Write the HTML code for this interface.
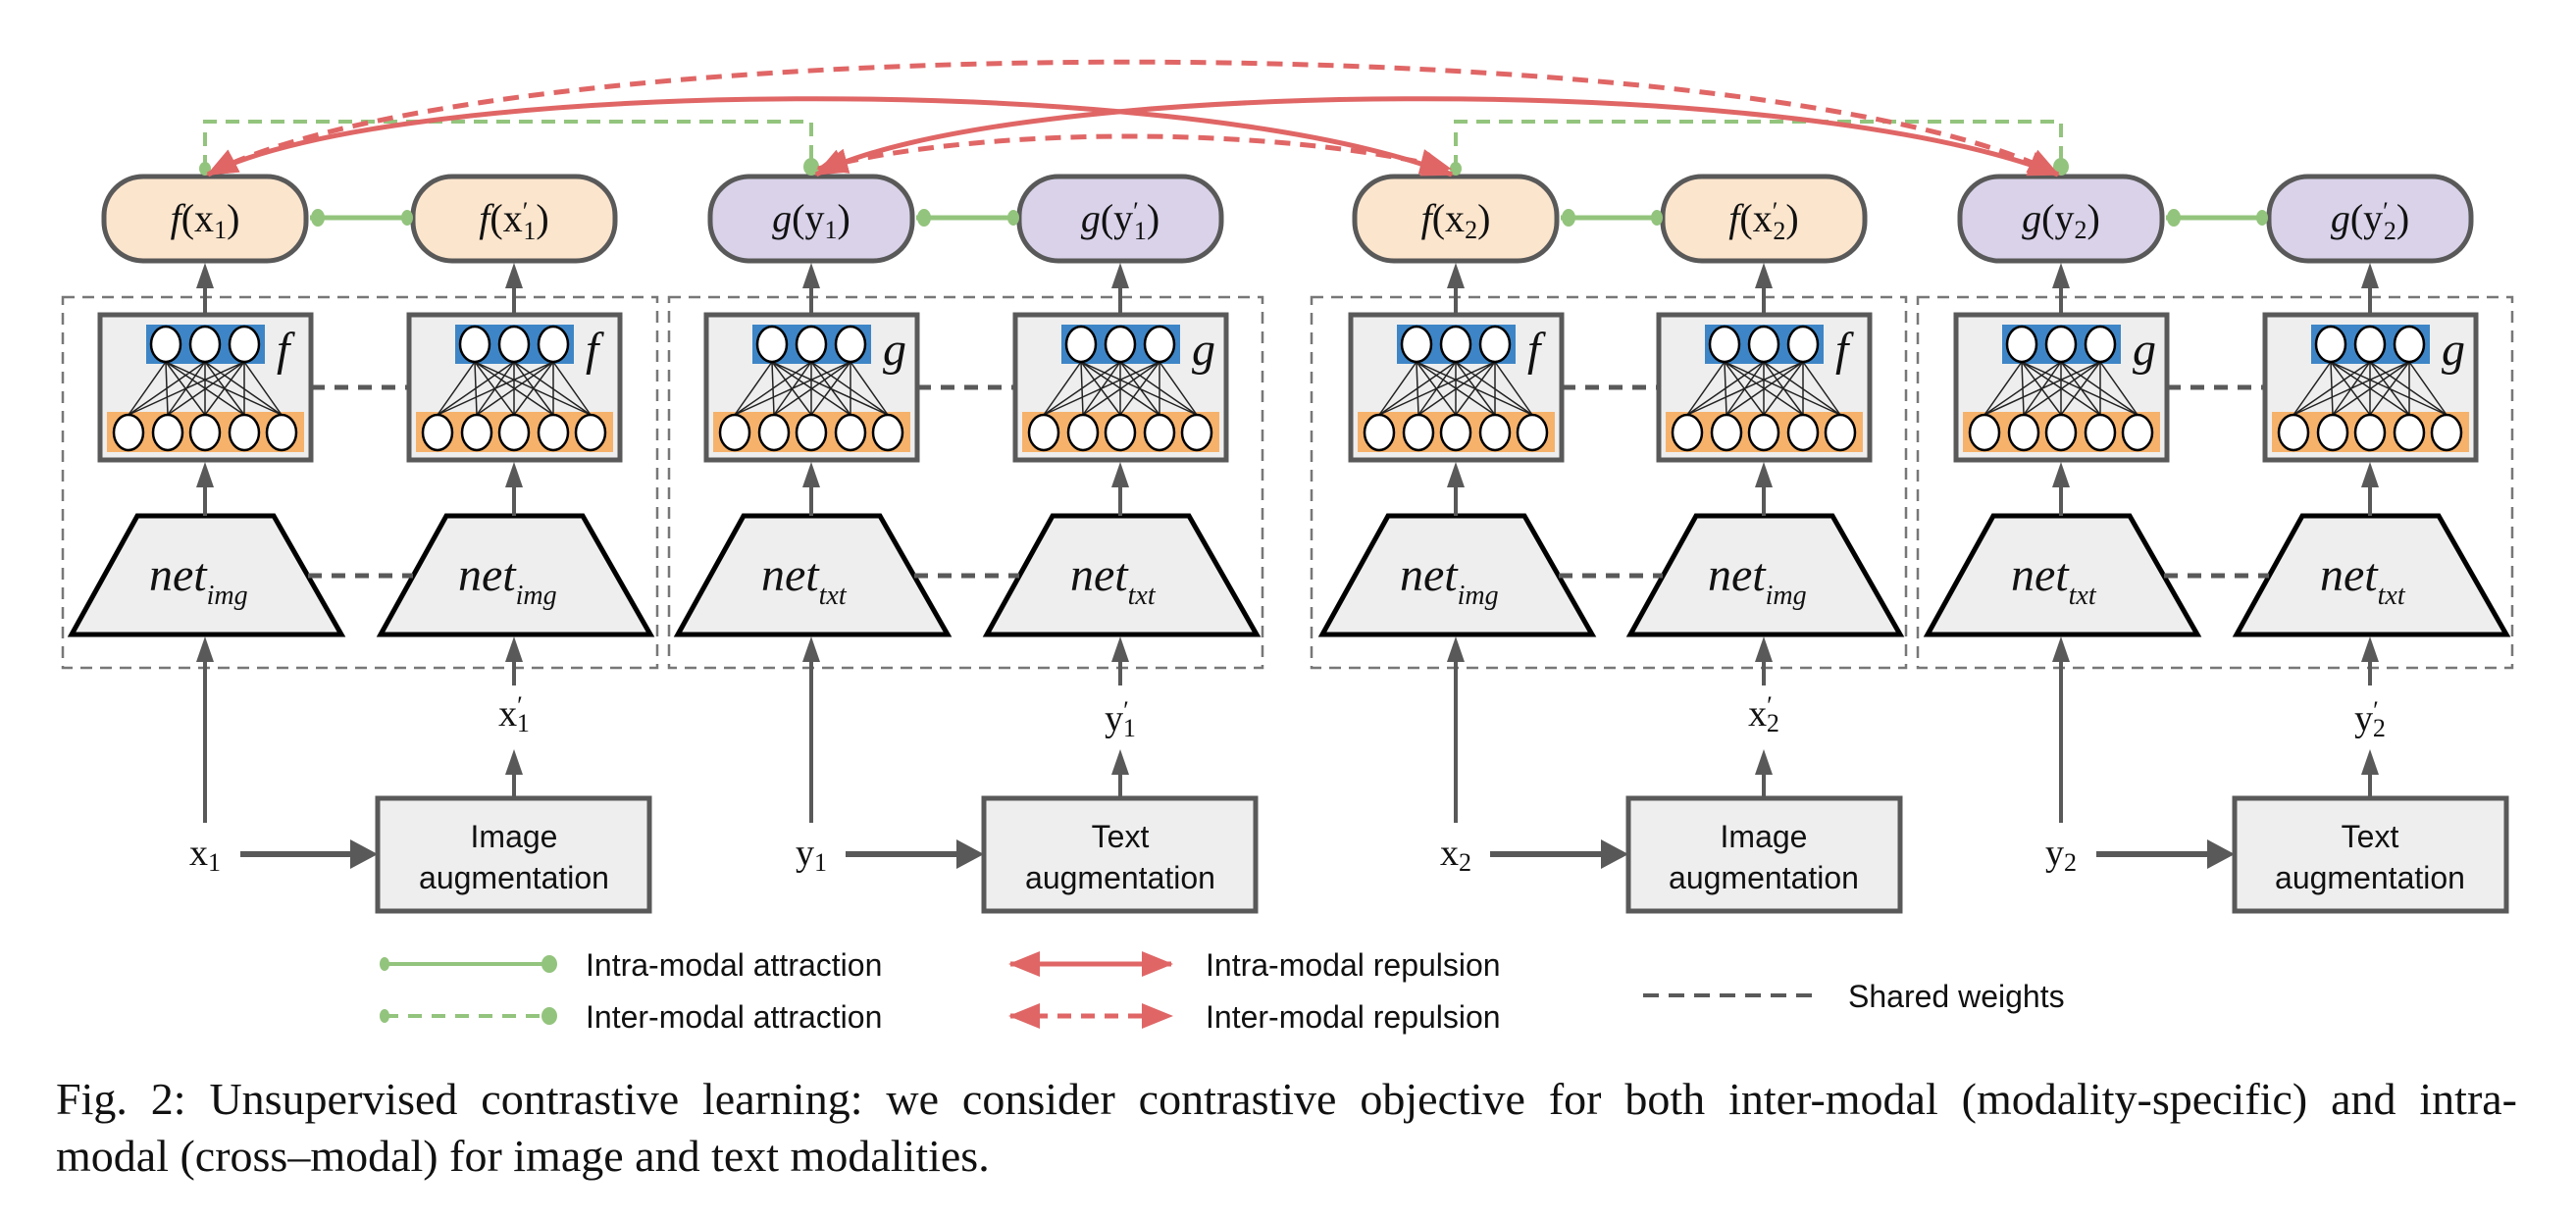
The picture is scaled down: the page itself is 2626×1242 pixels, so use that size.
<!DOCTYPE html>
<html><head><meta charset="utf-8"><style>
html,body{margin:0;padding:0;background:#fff;}
body{width:2626px;height:1242px;overflow:hidden;position:relative;}
svg{position:absolute;left:0;top:0;}
.cap{position:absolute;left:57px;width:2509px;font-family:"Liberation Serif",serif;font-size:46px;line-height:46px;color:#111;white-space:nowrap;}
</style></head><body>
<svg width="2626" height="1242" viewBox="0 0 2626 1242" xmlns="http://www.w3.org/2000/svg">
<defs>
<g id="nn">
<rect x="-107" y="321" width="215" height="148" fill="#eeeeee" stroke="#595959" stroke-width="5"/>
<rect x="-60" y="331" width="121" height="40" fill="#3d85c6"/>
<rect x="-100" y="420" width="201" height="41" fill="#f6b26b"/>
<g stroke="#222" stroke-width="1.5">
<path d="M-40,369L-78,423M-40,369L-38,423M-40,369L0,423M-40,369L40,423M-40,369L78,423M0,369L-78,423M0,369L-38,423M0,369L0,423M0,369L40,423M0,369L78,423M40,369L-78,423M40,369L-38,423M40,369L0,423M40,369L40,423M40,369L78,423"/>
</g>
<g fill="#fff" stroke="#000" stroke-width="2.5">
<ellipse cx="-40" cy="351" rx="15" ry="18"/><ellipse cx="0" cy="351" rx="15" ry="18"/><ellipse cx="40" cy="351" rx="15" ry="18"/>
<ellipse cx="-78" cy="441" rx="15" ry="18"/><ellipse cx="-38" cy="441" rx="15" ry="18"/><ellipse cx="0" cy="441" rx="15" ry="18"/><ellipse cx="40" cy="441" rx="15" ry="18"/><ellipse cx="78" cy="441" rx="15" ry="18"/>
</g>
<polygon points="-69,526 70,526 139,647 -136,647" fill="#eeeeee" stroke="#000" stroke-width="5" stroke-linejoin="miter"/>
<g stroke="#595959" stroke-width="4"><line x1="0" y1="321" x2="0" y2="290"/><line x1="0" y1="526" x2="0" y2="495"/><line x1="0" y1="699" x2="0" y2="670"/></g>
<g fill="#595959"><polygon points="0,268 -9,294 9,294"/><polygon points="0,471 -9,497 9,497"/><polygon points="0,649 -9,675 9,675"/></g>
</g>
<g id="up"><polygon points="0,0 -9,26 9,26" fill="#595959"/></g>
<marker id="ra" markerUnits="userSpaceOnUse" markerWidth="34" markerHeight="30" refX="30" refY="15" orient="auto-start-reverse"><path d="M0,2 L32,15 L0,28 z" fill="#e06666"/></marker>
</defs>

<g fill="none" stroke="#777" stroke-width="2.5" stroke-dasharray="12,8">
<rect x="64" y="303" width="606" height="378"/><rect x="682" y="303" width="605" height="378"/>
<rect x="1337" y="303" width="606" height="378"/><rect x="1955" y="303" width="606" height="378"/>
</g>

<use href="#nn" x="209"/><use href="#nn" x="524"/><use href="#nn" x="827"/><use href="#nn" x="1142"/>
<use href="#nn" x="1484"/><use href="#nn" x="1798"/><use href="#nn" x="2101"/><use href="#nn" x="2416"/>

<g stroke="#595959" stroke-width="5" stroke-dasharray="14,10">
<line x1="317" y1="395" x2="417" y2="395"/><line x1="935" y1="395" x2="1035" y2="395"/><line x1="1592" y1="395" x2="1691" y2="395"/><line x1="2209" y1="395" x2="2309" y2="395"/>
<line x1="314" y1="587" x2="421" y2="587"/><line x1="932" y1="587" x2="1039" y2="587"/><line x1="1589" y1="587" x2="1695" y2="587"/><line x1="2206" y1="587" x2="2313" y2="587"/>
</g>

<g font-family="Liberation Serif,serif" font-style="italic" font-size="48" fill="#111">
<text x="282" y="372">f</text><text x="597" y="372">f</text><text x="900" y="372">g</text><text x="1215" y="372">g</text>
<text x="1557" y="372">f</text><text x="1871" y="372">f</text><text x="2174" y="372">g</text><text x="2489" y="372">g</text>
</g>
<g font-family="Liberation Serif,serif" font-style="italic" fill="#111">
<text x="152" y="602" font-size="48">net<tspan font-size="28" dy="14">img</tspan></text>
<text x="467" y="602" font-size="48">net<tspan font-size="28" dy="14">img</tspan></text>
<text x="776" y="602" font-size="48">net<tspan font-size="28" dy="14">txt</tspan></text>
<text x="1091" y="602" font-size="48">net<tspan font-size="28" dy="14">txt</tspan></text>
<text x="1427" y="602" font-size="48">net<tspan font-size="28" dy="14">img</tspan></text>
<text x="1741" y="602" font-size="48">net<tspan font-size="28" dy="14">img</tspan></text>
<text x="2050" y="602" font-size="48">net<tspan font-size="28" dy="14">txt</tspan></text>
<text x="2365" y="602" font-size="48">net<tspan font-size="28" dy="14">txt</tspan></text>
</g>

<g stroke="#595959" stroke-width="5">
<rect x="106" y="180" width="206" height="86" rx="40" fill="#fce5cd"/>
<rect x="421" y="180" width="206" height="86" rx="40" fill="#fce5cd"/>
<rect x="724" y="180" width="206" height="86" rx="40" fill="#d9d2e9"/>
<rect x="1039" y="180" width="206" height="86" rx="40" fill="#d9d2e9"/>
<rect x="1381" y="180" width="206" height="86" rx="40" fill="#fce5cd"/>
<rect x="1695" y="180" width="206" height="86" rx="40" fill="#fce5cd"/>
<rect x="1998" y="180" width="206" height="86" rx="40" fill="#d9d2e9"/>
<rect x="2313" y="180" width="206" height="86" rx="40" fill="#d9d2e9"/>
</g>
<g font-family="Liberation Serif,serif" font-size="40" fill="#111" text-anchor="middle">
<text x="209" y="236"><tspan font-style="italic">f</tspan>(x<tspan font-size="26" dy="7">1</tspan><tspan dy="-7">)</tspan></text>
<text x="524" y="236"><tspan font-style="italic">f</tspan>(x<tspan font-size="26" dy="-12">′</tspan><tspan font-size="26" dy="20" dx="-5">1</tspan><tspan dy="-8">)</tspan></text>
<text x="827" y="236"><tspan font-style="italic">g</tspan>(y<tspan font-size="26" dy="7">1</tspan><tspan dy="-7">)</tspan></text>
<text x="1142" y="236"><tspan font-style="italic">g</tspan>(y<tspan font-size="26" dy="-12">′</tspan><tspan font-size="26" dy="20" dx="-5">1</tspan><tspan dy="-8">)</tspan></text>
<text x="1484" y="236"><tspan font-style="italic">f</tspan>(x<tspan font-size="26" dy="7">2</tspan><tspan dy="-7">)</tspan></text>
<text x="1798" y="236"><tspan font-style="italic">f</tspan>(x<tspan font-size="26" dy="-12">′</tspan><tspan font-size="26" dy="20" dx="-5">2</tspan><tspan dy="-8">)</tspan></text>
<text x="2101" y="236"><tspan font-style="italic">g</tspan>(y<tspan font-size="26" dy="7">2</tspan><tspan dy="-7">)</tspan></text>
<text x="2416" y="236"><tspan font-style="italic">g</tspan>(y<tspan font-size="26" dy="-12">′</tspan><tspan font-size="26" dy="20" dx="-5">2</tspan><tspan dy="-8">)</tspan></text>
</g>

<g stroke="#93c47d" stroke-width="5" fill="#93c47d">
<line x1="316" y1="222" x2="419" y2="222"/><line x1="934" y1="222" x2="1037" y2="222"/><line x1="1591" y1="222" x2="1693" y2="222"/><line x1="2208" y1="222" x2="2311" y2="222"/>
</g>
<g fill="#93c47d">
<ellipse cx="324" cy="222" rx="7" ry="9"/><ellipse cx="415" cy="222" rx="6" ry="8"/>
<ellipse cx="942" cy="222" rx="7" ry="9"/><ellipse cx="1033" cy="222" rx="6" ry="8"/>
<ellipse cx="1599" cy="222" rx="7" ry="9"/><ellipse cx="1689" cy="222" rx="6" ry="8"/>
<ellipse cx="2216" cy="222" rx="7" ry="9"/><ellipse cx="2306" cy="222" rx="6" ry="8"/>
<ellipse cx="209" cy="172" rx="6" ry="7"/><ellipse cx="827" cy="170" rx="8" ry="9"/>
<ellipse cx="1484" cy="172" rx="6" ry="7"/><ellipse cx="2101" cy="170" rx="8" ry="9"/>
</g>
<g fill="none" stroke="#93c47d" stroke-width="4" stroke-dasharray="14,9">
<path d="M209,172 V124 H827 V170"/><path d="M1484,172 V124 H2101 V170"/>
</g>

<g fill="none" stroke="#e06666" stroke-width="5">
<path d="M212,178 C400,80 1200,70 1480,178" marker-start="url(#ra)" marker-end="url(#ra)"/>
<path d="M832,178 C1020,80 1820,70 2098,178" marker-start="url(#ra)" marker-end="url(#ra)"/>
<path d="M212,178 C500,25 1800,25 2098,178" stroke-dasharray="16,10" marker-start="url(#ra)" marker-end="url(#ra)"/>
<path d="M834,172 C1000,128 1300,128 1478,172" stroke-dasharray="16,10" marker-start="url(#ra)" marker-end="url(#ra)"/>
</g>

<g stroke="#595959" stroke-width="4">
<line x1="209" y1="839" x2="209" y2="672"/><line x1="827" y1="839" x2="827" y2="672"/>
<line x1="1484" y1="839" x2="1484" y2="672"/><line x1="2101" y1="839" x2="2101" y2="672"/>
<line x1="524" y1="814" x2="524" y2="788"/><line x1="1142" y1="814" x2="1142" y2="788"/>
<line x1="1798" y1="814" x2="1798" y2="788"/><line x1="2416" y1="814" x2="2416" y2="788"/>
</g>
<use href="#up" x="524" y="764"/><use href="#up" x="1142" y="764"/><use href="#up" x="1798" y="764"/><use href="#up" x="2416" y="764"/>
<g stroke="#595959" stroke-width="6">
<line x1="245" y1="871" x2="362" y2="871"/><line x1="862" y1="871" x2="980" y2="871"/>
<line x1="1519" y1="871" x2="1637" y2="871"/><line x1="2137" y1="871" x2="2256" y2="871"/>
</g>
<g fill="#595959">
<polygon points="385,871 357,856 357,886"/><polygon points="1003,871 975,856 975,886"/>
<polygon points="1660,871 1632,856 1632,886"/><polygon points="2278,871 2250,856 2250,886"/>
</g>
<g stroke="#595959" stroke-width="5" fill="#eeeeee">
<rect x="385" y="814" width="277" height="115"/><rect x="1003" y="814" width="277" height="115"/>
<rect x="1660" y="814" width="277" height="115"/><rect x="2278" y="814" width="277" height="115"/>
</g>
<g font-family="Liberation Sans,sans-serif" font-size="32" fill="#111" text-anchor="middle">
<text x="524" y="864">Image</text><text x="524" y="906">augmentation</text>
<text x="1142" y="864">Text</text><text x="1142" y="906">augmentation</text>
<text x="1798" y="864">Image</text><text x="1798" y="906">augmentation</text>
<text x="2416" y="864">Text</text><text x="2416" y="906">augmentation</text>
</g>
<g font-family="Liberation Serif,serif" font-size="38" fill="#111" text-anchor="middle">
<text x="209" y="882">x<tspan font-size="26" dy="6">1</tspan></text>
<text x="827" y="882">y<tspan font-size="26" dy="6">1</tspan></text>
<text x="1484" y="882">x<tspan font-size="26" dy="6">2</tspan></text>
<text x="2101" y="882">y<tspan font-size="26" dy="6">2</tspan></text>
<text x="524" y="740">x<tspan font-size="26" dy="-12">′</tspan><tspan font-size="26" dy="18" dx="-6">1</tspan></text>
<text x="1142" y="745">y<tspan font-size="26" dy="-12">′</tspan><tspan font-size="26" dy="18" dx="-6">1</tspan></text>
<text x="1798" y="740">x<tspan font-size="26" dy="-12">′</tspan><tspan font-size="26" dy="18" dx="-6">2</tspan></text>
<text x="2416" y="745">y<tspan font-size="26" dy="-12">′</tspan><tspan font-size="26" dy="18" dx="-6">2</tspan></text>
</g>

<line x1="392" y1="983" x2="560" y2="983" stroke="#93c47d" stroke-width="4"/>
<ellipse cx="392" cy="983" rx="5" ry="7" fill="#93c47d"/><ellipse cx="560" cy="983" rx="8" ry="9" fill="#93c47d"/>
<line x1="392" y1="1036" x2="560" y2="1036" stroke="#93c47d" stroke-width="4" stroke-dasharray="14,10"/>
<ellipse cx="392" cy="1036" rx="5" ry="7" fill="#93c47d"/><ellipse cx="560" cy="1036" rx="8" ry="9" fill="#93c47d"/>
<line x1="1030" y1="983" x2="1194" y2="983" stroke="#e06666" stroke-width="5" marker-start="url(#ra)" marker-end="url(#ra)"/>
<line x1="1030" y1="1036" x2="1194" y2="1036" stroke="#e06666" stroke-width="5" stroke-dasharray="14,10" marker-start="url(#ra)" marker-end="url(#ra)"/>
<line x1="1675" y1="1015" x2="1849" y2="1015" stroke="#595959" stroke-width="4" stroke-dasharray="16,10"/>
<g font-family="Liberation Sans,sans-serif" font-size="32" fill="#111">
<text x="597" y="995">Intra-modal attraction</text><text x="597" y="1048">Inter-modal attraction</text>
<text x="1229" y="995">Intra-modal repulsion</text><text x="1229" y="1048">Inter-modal repulsion</text>
<text x="1884" y="1027">Shared weights</text>
</g>
</svg>
<div class="cap" style="top:1098px;text-align:justify;text-align-last:justify;">Fig. 2: Unsupervised contrastive learning: we consider contrastive objective for both inter-modal (modality-specific) and intra-</div>
<div class="cap" style="top:1156px;">modal (cross–modal) for image and text modalities.</div>
</body></html>
